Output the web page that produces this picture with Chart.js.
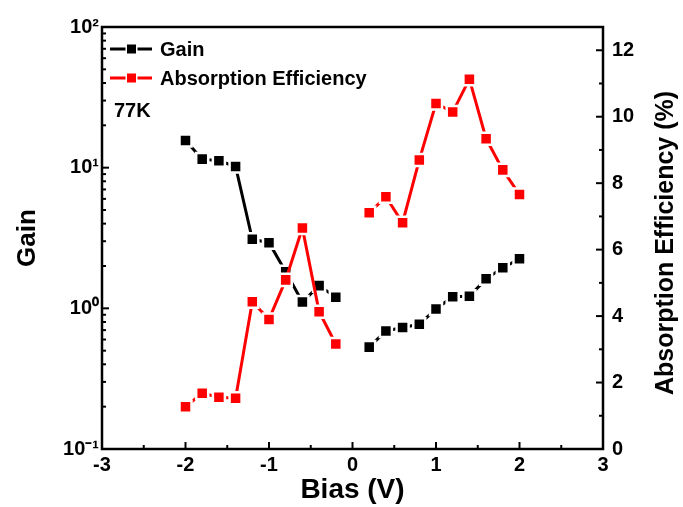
<!DOCTYPE html>
<html><head><meta charset="utf-8">
<script src="https://cdn.jsdelivr.net/npm/chart.js@4.4.1/dist/chart.umd.min.js"></script>
<style>html,body{margin:0;padding:0;background:#fff;}#wrap{width:683px;height:507px;}</style>
</head><body><div id="wrap"><canvas id="c" width="683" height="507"></canvas></div>
<script>
// ---- data ----
const biasNeg = [-2.0, -1.8, -1.6, -1.4, -1.2, -1.0, -0.8, -0.6, -0.4, -0.2];
const biasPos = [0.2, 0.4, 0.6, 0.8, 1.0, 1.2, 1.4, 1.6, 1.8, 2.0];
const gainNeg = [15.6, 11.5, 11.2, 10.2, 3.10, 2.93, 1.82, 1.11, 1.45, 1.20];
const gainPos = [0.53, 0.69, 0.73, 0.77, 0.99, 1.21, 1.22, 1.62, 1.94, 2.25];
const absNeg = [1.27, 1.68, 1.56, 1.53, 4.43, 3.90, 5.09, 6.65, 4.13, 3.16];
const absPos = [7.11, 7.59, 6.81, 8.70, 10.40, 10.14, 11.13, 9.34, 8.40, 7.66];
const biasTicks = [-3, -2, -1, 0, 1, 2, 3];
const gainTicks = [0.1, 1, 10, 100];
const gainTickLabels = ['10⁻¹', '10⁰', '10¹', '10²'];
const absTicks = [0, 2, 4, 6, 8, 10, 12];
const seriesNames = ['Gain', 'Absorption Efficiency'];
const noteText = '77K';

const FONT = '"Liberation Sans", Arial, Helvetica, sans-serif';
Chart.defaults.font.family = FONT;
Chart.defaults.font.weight = 'bold';
Chart.defaults.color = '#000';

function pts(xs, ys) { return xs.map((x, i) => ({ x: x, y: ys[i] })); }
function joined(xn, yn, xp, yp) { return [...pts(xn, yn), { x: 0, y: null }, ...pts(xp, yp)]; }

const decor = {
  id: 'decor',
  afterDraw(chart) {
    const { ctx, chartArea: a, scales } = chart;
    ctx.save();
    ctx.strokeStyle = '#000';
    ctx.lineWidth = 2.5;
    ctx.strokeRect(a.left, a.top, a.right - a.left, a.bottom - a.top);
    ctx.lineWidth = 2;
    const seg = (x1, y1, x2, y2) => { ctx.beginPath(); ctx.moveTo(x1, y1); ctx.lineTo(x2, y2); ctx.stroke(); };
    const sx = scales.x;
    for (let k = -6; k <= 6; k++) {
      const v = k / 2; const px = sx.getPixelForValue(v);
      seg(px, a.bottom, px, a.bottom - (k % 2 === 0 ? 7 : 4));
    }
    const sy = scales.y;
    for (let e = -1; e <= 2; e++) {
      for (let m = 1; m <= 9; m++) {
        const v = m * Math.pow(10, e); if (v > 100.0001) break;
        const py = sy.getPixelForValue(v);
        seg(a.left, py, a.left + (m === 1 ? 7 : 4), py);
      }
    }
    const sr = scales.y1;
    for (let v = 0; v <= 12; v++) {
      const py = sr.getPixelForValue(v);
      seg(a.right, py, a.right - (v % 2 === 0 ? 7 : 4), py);
    }
    // legend
    ctx.font = 'bold 20px ' + FONT;
    ctx.textBaseline = 'middle';
    ctx.textAlign = 'left';
    const rows = [a.top + 22, a.top + 51];
    chart.data.datasets.forEach((ds, i) => {
      const y = rows[i];
      ctx.strokeStyle = ds.borderColor; ctx.lineWidth = 3;
      seg(a.left + 8, y, a.left + 50, y);
      const cx = a.left + 29.5;
      ctx.fillStyle = '#fff'; ctx.fillRect(cx - 6, y - 6, 12, 12);
      ctx.fillStyle = ds.borderColor; ctx.fillRect(cx - 4.5, y - 4.5, 9, 9);
      ctx.fillStyle = '#000';
      ctx.fillText(seriesNames[i], a.left + 58, y + 1);
    });
    ctx.fillText(noteText, a.left + 12, a.top + 84);
    // right axis title
    ctx.save();
    ctx.translate(666, (a.top + a.bottom) / 2 + 5);
    ctx.rotate(-Math.PI / 2);
    ctx.textAlign = 'center';
    ctx.font = 'bold 25px ' + FONT;
    ctx.fillText('Absorption Efficiency (%)', 0, 0);
    ctx.restore();
    ctx.restore();
  }
};

new Chart(document.getElementById('c'), {
  type: 'line',
  data: {
    datasets: [
      {
        label: seriesNames[0], data: joined(biasNeg, gainNeg, biasPos, gainPos), yAxisID: 'y', order: 1,
        borderColor: '#000000', backgroundColor: '#000000', borderWidth: 3,
        pointStyle: 'rect', pointRadius: 8.5, pointHoverRadius: 8.5,
        pointBackgroundColor: '#000000', pointBorderColor: '#ffffff', pointBorderWidth: 2.5,
        spanGaps: false, tension: 0
      },
      {
        label: seriesNames[1], data: joined(biasNeg, absNeg, biasPos, absPos), yAxisID: 'y1', order: 0,
        borderColor: '#ff0000', backgroundColor: '#ff0000', borderWidth: 3,
        pointStyle: 'rect', pointRadius: 8.5, pointHoverRadius: 8.5,
        pointBackgroundColor: '#ff0000', pointBorderColor: '#ffffff', pointBorderWidth: 2.5,
        spanGaps: false, tension: 0
      }
    ]
  },
  options: {
    responsive: false, animation: false, devicePixelRatio: 1,
    layout: { padding: { top: 27, left: 0, right: 0, bottom: 0 } },
    plugins: { legend: { display: false }, tooltip: { enabled: false } },
    scales: {
      x: {
        type: 'linear', min: -3, max: 3,
        afterBuildTicks: s => { s.ticks = biasTicks.map(v => ({ value: v })); },
        afterFit: s => { s.height = 58; },
        grid: { display: false, drawTicks: false }, border: { display: false },
        ticks: { font: { size: 20, weight: 'bold' }, padding: 4, maxRotation: 0, autoSkip: false, color: '#000' },
        title: { display: true, text: 'Bias (V)', font: { size: 28, weight: 'bold' }, color: '#000', padding: { top: 0, bottom: 0 } }
      },
      y: {
        type: 'logarithmic', position: 'left', min: 0.1, max: 100,
        afterBuildTicks: s => { s.ticks = gainTicks.map(v => ({ value: v })); },
        afterFit: s => { s.width = 102; },
        grid: { display: false, drawTicks: false }, border: { display: false },
        ticks: { font: { size: 20, weight: 'bold' }, padding: 3, color: '#000', autoSkip: false,
          callback: (v) => gainTickLabels[gainTicks.indexOf(v)] },
        title: { display: true, text: 'Gain', font: { size: 26, weight: 'bold' }, color: '#000', padding: { top: 12, bottom: 0 } }
      },
      y1: {
        type: 'linear', position: 'right', min: 0, max: 12.7,
        afterBuildTicks: s => { s.ticks = absTicks.map(v => ({ value: v })); },
        afterFit: s => { s.width = 80; },
        grid: { display: false, drawTicks: false }, border: { display: false },
        ticks: { font: { size: 20, weight: 'bold' }, padding: 9, color: '#000', autoSkip: false },
        title: { display: false }
      }
    }
  },
  plugins: [decor]
});
</script>
</body></html>
